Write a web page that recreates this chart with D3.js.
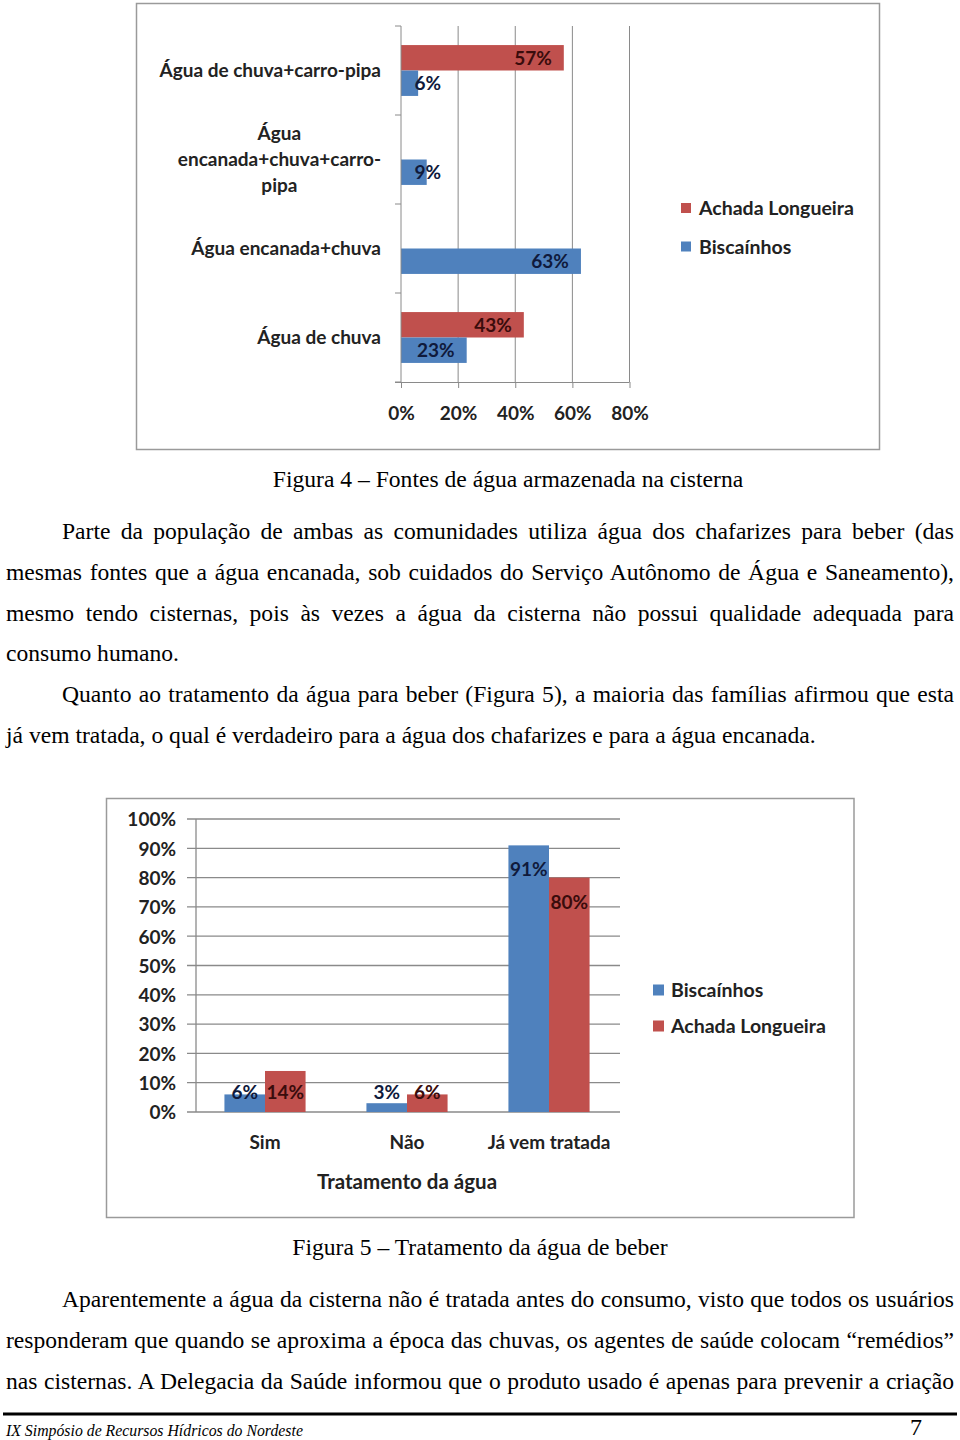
<!DOCTYPE html>
<html>
<head>
<meta charset="utf-8">
<script src="https://cdn.jsdelivr.net/npm/d3@7"></script>
<style>
  html, body { margin: 0; padding: 0; background: #fff; }
  svg { display: block; }
  .lbl { font-family: Lato, "Open Sans", sans-serif; font-weight: 700; }
  .serif { font-family: "Liberation Serif", "Times New Roman", serif; fill: #000; }
</style>
</head>
<body>
<svg id="page" width="960" height="1440"></svg>
<script>
// ---------- Figure 4 data ----------
const fig4Categories = ["Água de chuva+carro-pipa", "Água encanada+chuva+carro-pipa", "Água encanada+chuva", "Água de chuva"];
const fig4CategoryLines = [["Água de chuva+carro-pipa"], ["Água", "encanada+chuva+carro-", "pipa"], ["Água encanada+chuva"], ["Água de chuva"]];
const fig4Series = ["Achada Longueira", "Biscaínhos"];
const fig4Achada = [57, null, null, 43];
const fig4Biscainhos = [6, 9, 63, 23];
const fig4Ticks = [0, 20, 40, 60, 80];

// ---------- Figure 5 data ----------
const fig5Categories = ["Sim", "Não", "Já vem tratada"];
const fig5Series = ["Biscaínhos", "Achada Longueira"];
const fig5Biscainhos = [6, 3, 91];
const fig5Achada = [14, 6, 80];
const fig5Ticks = [0, 10, 20, 30, 40, 50, 60, 70, 80, 90, 100];
const fig5AxisTitle = "Tratamento da água";

// ---------- Text ----------
const caption4 = "Figura 4 – Fontes de água armazenada na cisterna";
const caption5 = "Figura 5 – Tratamento da água de beber";
const para1 = [
  "Parte da população de ambas as comunidades utiliza água dos chafarizes para beber (das",
  "mesmas fontes que a água encanada, sob cuidados do Serviço Autônomo de Água e Saneamento),",
  "mesmo tendo cisternas, pois às vezes a água da cisterna não possui qualidade adequada para",
  "consumo humano."
];
const para2 = [
  "Quanto ao tratamento da água para beber (Figura 5), a maioria das famílias afirmou que esta",
  "já vem tratada, o qual é verdadeiro para a água dos chafarizes e para a água encanada."
];
const para3 = [
  "Aparentemente a água da cisterna não é tratada antes do consumo, visto que todos os usuários",
  "responderam que quando se aproxima a época das chuvas, os agentes de saúde colocam “remédios”",
  "nas cisternas. A Delegacia da Saúde informou que o produto usado é apenas para prevenir a criação"
];
const footerText = "IX Simpósio de Recursos Hídricos do Nordeste";
const pageNumber = "7";

const COLORS = { "Biscaínhos": "#4F81BD", "Achada Longueira": "#C0504D" };
const LABEL_COLORS = { "Biscaínhos": "#0f1a3c", "Achada Longueira": "#3a0c0c" };
const GRID = "#8a8a8a";
const TEXT = "#222";
const LFS = 19;     // chart label font size
const LEGFS = 19.5; // legend font size

const svg = d3.select("#page");

// ================= Figure 4 (horizontal bars) =================
(function () {
  const g = svg.append("g");
  g.append("rect").attr("x", 136.5).attr("y", 3.5).attr("width", 743).attr("height", 446)
    .attr("fill", "#fff").attr("stroke", "#9a9a9a").attr("stroke-width", 1.5);

  const x = d3.scaleLinear().domain([0, 80]).range([401, 629.5]);
  const y0 = d3.scaleBand().domain(fig4Categories).range([26, 382]).paddingInner(0).paddingOuter(0);
  const y1 = d3.scaleBand().domain(fig4Series).range([0, y0.bandwidth()]).paddingInner(0).paddingOuter(0.75);

  g.selectAll(".vgrid").data(fig4Ticks.slice(1)).join("line")
    .attr("x1", d => x(d)).attr("x2", d => x(d))
    .attr("y1", y0.range()[0]).attr("y2", y0.range()[1])
    .attr("stroke", GRID).attr("stroke-width", 1);

  const rows = [];
  fig4Categories.forEach((c, i) => {
    rows.push({ cat: c, series: "Achada Longueira", v: fig4Achada[i] });
    rows.push({ cat: c, series: "Biscaínhos", v: fig4Biscainhos[i] });
  });
  const valid = rows.filter(d => d.v != null);
  g.selectAll(".bar").data(valid).join("rect")
    .attr("x", x(0)).attr("y", d => y0(d.cat) + y1(d.series))
    .attr("width", d => x(d.v) - x(0)).attr("height", y1.bandwidth())
    .attr("fill", d => COLORS[d.series]);

  const yAxis = g.append("g");
  yAxis.append("line").attr("x1", x(0)).attr("x2", x(0)).attr("y1", y0.range()[0]).attr("y2", y0.range()[1])
    .attr("stroke", GRID);
  const bounds = fig4Categories.map(c => y0(c)).concat([y0.range()[1]]);
  yAxis.selectAll(".tk").data(bounds).join("line")
    .attr("x1", x(0) - 6).attr("x2", x(0)).attr("y1", d => d).attr("y2", d => d).attr("stroke", GRID);

  const xAxis = g.append("g").attr("transform", `translate(0,${y0.range()[1]})`)
    .call(d3.axisBottom(x).tickValues(fig4Ticks).tickSize(6).tickFormat(d => d + "%"));
  xAxis.select(".domain").attr("stroke", GRID).attr("d", `M${x(0) - 6},0.5H${x(80)}`);
  xAxis.selectAll(".tick line").attr("stroke", GRID);
  xAxis.selectAll(".tick text").attr("class", "lbl").attr("fill", TEXT).attr("font-size", LFS).attr("dy", 0)
    .attr("y", 38);

  g.selectAll(".dl").data(valid).join("text").attr("class", "lbl")
    .attr("x", d => Math.max(x(d.v) - 12, x(0) + 40))
    .attr("y", d => y0(d.cat) + y1(d.series) + y1.bandwidth() / 2 + 7)
    .attr("text-anchor", "end").attr("font-size", LFS)
    .attr("fill", d => LABEL_COLORS[d.series])
    .text(d => d.v + "%");

  fig4Categories.forEach((c, i) => {
    const lines = fig4CategoryLines[i];
    const cy = y0(c) + y0.bandwidth() / 2;
    const lh = 26;
    const t = g.append("text").attr("class", "lbl").attr("font-size", LFS).attr("fill", TEXT);
    if (lines.length === 1) {
      t.attr("x", 381).attr("y", cy + 6.5).attr("text-anchor", "end").text(lines[0]);
    } else {
      const tmp = g.append("text").attr("class", "lbl").attr("font-size", LFS);
      let maxW = 0;
      lines.forEach(l => { tmp.text(l); maxW = Math.max(maxW, tmp.node().getComputedTextLength()); });
      tmp.remove();
      const cx = 381 - maxW / 2;
      t.attr("text-anchor", "middle");
      lines.forEach((l, k) => {
        t.append("tspan").attr("x", cx).attr("y", cy + 6.5 + (k - (lines.length - 1) / 2) * lh).text(l);
      });
    }
  });

  const leg = g.append("g");
  fig4Series.forEach((s, i) => {
    const ly = 208 + i * 38.5;
    leg.append("rect").attr("x", 681).attr("y", ly - 5).attr("width", 10).attr("height", 10).attr("fill", COLORS[s]);
    leg.append("text").attr("class", "lbl").attr("x", 699).attr("y", ly + 7).attr("font-size", LEGFS)
      .attr("fill", TEXT).text(s);
  });
})();

// ================= Figure 5 (vertical bars) =================
(function () {
  const g = svg.append("g");
  g.append("rect").attr("x", 106.5).attr("y", 798.5).attr("width", 747.5).attr("height", 419)
    .attr("fill", "#fff").attr("stroke", "#9a9a9a").attr("stroke-width", 1.5);

  const y = d3.scaleLinear().domain([0, 100]).range([1112, 819]);
  const x0 = d3.scaleBand().domain(fig5Categories).range([194, 620]).paddingInner(0).paddingOuter(0);
  const x1 = d3.scaleBand().domain(fig5Series).range([0, x0.bandwidth()]).paddingInner(0).paddingOuter(0.75);

  g.selectAll(".hgrid").data(fig5Ticks).join("line")
    .attr("x1", 187).attr("x2", 620).attr("y1", d => y(d)).attr("y2", d => y(d))
    .attr("stroke", GRID).attr("stroke-width", 1.3);
  g.append("line").attr("x1", 196).attr("x2", 196).attr("y1", y(100)).attr("y2", y(0)).attr("stroke", GRID).attr("stroke-width", 1.3);

  const yAxis = g.append("g").attr("transform", "translate(196,0)")
    .call(d3.axisLeft(y).tickValues(fig5Ticks).tickSize(0).tickPadding(20).tickFormat(d => d + "%"));
  yAxis.select(".domain").remove();
  yAxis.selectAll(".tick text").attr("class", "lbl").attr("fill", TEXT).attr("font-size", LFS).attr("dy", "0.36em");

  const rows = [];
  fig5Categories.forEach((c, i) => {
    rows.push({ cat: c, series: "Biscaínhos", v: fig5Biscainhos[i] });
    rows.push({ cat: c, series: "Achada Longueira", v: fig5Achada[i] });
  });
  g.selectAll(".bar").data(rows).join("rect")
    .attr("x", d => x0(d.cat) + x1(d.series)).attr("width", x1.bandwidth())
    .attr("y", d => y(d.v)).attr("height", d => y(0) - y(d.v))
    .attr("fill", d => COLORS[d.series]);

  g.selectAll(".dl").data(rows).join("text").attr("class", "lbl")
    .attr("x", d => x0(d.cat) + x1(d.series) + x1.bandwidth() / 2)
    .attr("y", d => Math.min(y(d.v) + 31, y(0) - 13))
    .attr("text-anchor", "middle").attr("font-size", LFS)
    .attr("fill", d => LABEL_COLORS[d.series])
    .text(d => d.v + "%");

  const xAxis = g.append("g").attr("transform", `translate(0,${y(0)})`)
    .call(d3.axisBottom(x0).tickSize(0).tickPadding(0));
  xAxis.select(".domain").remove();
  xAxis.selectAll(".tick text").attr("class", "lbl").attr("fill", TEXT).attr("font-size", LFS)
    .attr("dy", 0).attr("y", 37);

  g.append("text").attr("class", "lbl").attr("x", 407).attr("y", 1189).attr("text-anchor", "middle")
    .attr("font-size", 20.5).attr("fill", TEXT).text(fig5AxisTitle);

  fig5Series.forEach((s, i) => {
    const ly = 990 + i * 36;
    g.append("rect").attr("x", 653).attr("y", ly - 5.5).attr("width", 11).attr("height", 11).attr("fill", COLORS[s]);
    g.append("text").attr("class", "lbl").attr("x", 671).attr("y", ly + 7).attr("font-size", LEGFS)
      .attr("fill", TEXT).text(s);
  });
})();

// ================= Body text =================
const FS = 23.6;
const LEFT = 6, RIGHT = 954, INDENT = 62, LH = 40.8;

function textLine(str, xPos, yPos, justifyTo) {
  const t = svg.append("text").attr("class", "serif").attr("x", xPos).attr("y", yPos)
    .attr("font-size", FS).text(str);
  if (justifyTo) {
    const nat = t.node().getComputedTextLength();
    const spaces = (str.match(/ /g) || []).length;
    if (spaces > 0) t.style("word-spacing", ((justifyTo - xPos - nat) / spaces) + "px");
  }
  return t;
}
// lastJustified: paragraph continues beyond the page, so its last line is justified too
function paragraph(lines, startY, lastJustified) {
  lines.forEach((l, i) => {
    const xPos = i === 0 ? INDENT : LEFT;
    const last = i === lines.length - 1;
    textLine(l, xPos, startY + i * LH, (last && !lastJustified) ? null : RIGHT);
  });
}

svg.append("text").attr("class", "serif").attr("x", 508).attr("y", 487).attr("text-anchor", "middle")
  .attr("font-size", FS).text(caption4);
paragraph(para1, 539, false);
paragraph(para2, 539 + 4 * LH, false);
svg.append("text").attr("class", "serif").attr("x", 480).attr("y", 1255).attr("text-anchor", "middle")
  .attr("font-size", FS).text(caption5);
paragraph(para3, 1307, true);

// footer
svg.append("line").attr("x1", 3).attr("x2", 957).attr("y1", 1414).attr("y2", 1414)
  .attr("stroke", "#000").attr("stroke-width", 3);
svg.append("text").attr("class", "serif").attr("x", 6).attr("y", 1436).attr("font-size", 15.8)
  .attr("font-style", "italic").text(footerText);
svg.append("text").attr("class", "serif").attr("x", 922).attr("y", 1435).attr("text-anchor", "end")
  .attr("font-size", 24).text(pageNumber);
</script>
</body>
</html>
